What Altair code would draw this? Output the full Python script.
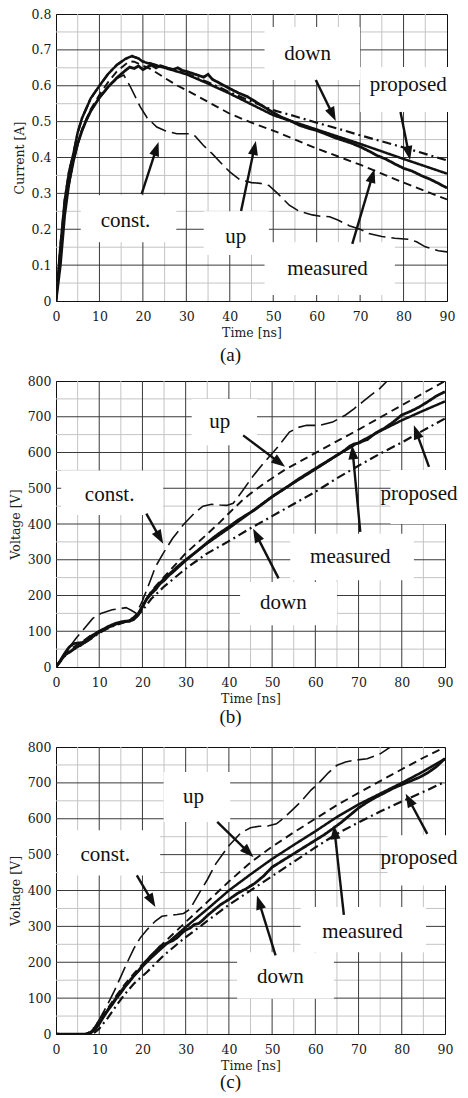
import math
import altair as alt
import pandas as pd

# ---------------- axis ticks / grid values ----------------
X_TICKS = [0, 10, 20, 30, 40, 50, 60, 70, 80, 90]
X_MAJOR = [10, 20, 30, 40, 50, 60, 70, 80]
X_MINOR = [5, 15, 25, 35, 45, 55, 65, 75, 85]
A_YTICKS = [0, 0.1, 0.2, 0.3, 0.4, 0.5, 0.6, 0.7, 0.8]
A_YMAJOR = [0.1, 0.2, 0.3, 0.4, 0.5, 0.6, 0.7]
A_YMINOR = [0.05, 0.15, 0.25, 0.35, 0.45, 0.55, 0.65, 0.75]
V_YTICKS = [0, 100, 200, 300, 400, 500, 600, 700, 800]
V_YMAJOR = [100, 200, 300, 400, 500, 600, 700]
V_YMINOR = [50, 150, 250, 350, 450, 550, 650, 750]

SERIES = ["measured", "proposed", "down", "up", "const."]

# ---------------- panel (a): current ----------------
A_MEAS_T = [0, 1, 2, 3, 4, 5, 6, 7, 8, 10, 12, 14, 16, 17, 18, 19, 20, 21, 22, 23, 24, 25, 26, 27, 28, 29, 30,
            32, 34, 35, 36, 38, 40, 42, 44, 46, 48, 50, 52, 54, 56, 58, 60, 62, 64, 66, 68, 70, 72, 74, 76, 78,
            80, 82, 84, 86, 88, 90]
A_MEAS = [0, 0.1, 0.24, 0.33, 0.39, 0.44, 0.475, 0.505, 0.53, 0.567, 0.597, 0.622, 0.643, 0.652, 0.648, 0.655,
          0.645, 0.652, 0.658, 0.65, 0.656, 0.652, 0.648, 0.645, 0.65, 0.643, 0.64, 0.632, 0.624, 0.632, 0.618,
          0.605, 0.592, 0.58, 0.57, 0.555, 0.54, 0.525, 0.512, 0.502, 0.49, 0.482, 0.475, 0.466, 0.456, 0.448,
          0.44, 0.43, 0.418, 0.405, 0.395, 0.382, 0.37, 0.362, 0.35, 0.34, 0.328, 0.315]
A_PROP_T = [0, 1, 2, 3, 4, 5, 6, 8, 10, 12, 14, 16, 17.5, 19, 20, 25, 30, 35, 40, 45, 50, 60, 70, 80, 90]
A_PROP = [0, 0.15, 0.28, 0.36, 0.41, 0.47, 0.51, 0.565, 0.6, 0.633, 0.658, 0.675, 0.683, 0.676, 0.667, 0.65,
          0.632, 0.606, 0.578, 0.548, 0.518, 0.478, 0.438, 0.396, 0.355]
A_DOWN_T = [0, 1, 2, 3, 4, 5, 6, 8, 10, 12, 14, 16, 17.5, 19, 20, 25, 30, 35, 40, 45, 50, 55, 60, 65, 70, 75,
            80, 85, 90]
A_DOWN = [0, 0.15, 0.28, 0.36, 0.41, 0.47, 0.51, 0.565, 0.6, 0.633, 0.658, 0.675, 0.682, 0.676, 0.668, 0.652,
          0.634, 0.61, 0.582, 0.556, 0.532, 0.515, 0.497, 0.48, 0.462, 0.445, 0.428, 0.41, 0.392]
A_UP_T = [0, 2, 4, 6, 8, 10, 12, 14, 16, 17, 18, 20, 22, 25, 28, 30, 35, 40, 45, 50, 60, 70, 80, 90]
A_UP = [0, 0.26, 0.39, 0.48, 0.535, 0.575, 0.61, 0.64, 0.66, 0.668, 0.667, 0.656, 0.645, 0.622, 0.6, 0.588,
        0.555, 0.522, 0.497, 0.475, 0.425, 0.38, 0.33, 0.283]
A_CONST_T = [0, 2, 4, 6, 8, 10, 12, 14, 15.6, 17, 19.4, 21, 23.2, 25, 27.8, 30.8, 32, 33.9, 36, 38.5, 40, 42.3,
             45, 47, 49, 51, 53.7, 56, 59, 61, 63, 65, 67.5, 70, 72, 75, 78, 81, 83, 85, 88, 90]
A_CONST = [0, 0.26, 0.39, 0.475, 0.528, 0.565, 0.595, 0.62, 0.63, 0.6, 0.541, 0.51, 0.485, 0.475, 0.466, 0.466,
           0.46, 0.434, 0.41, 0.378, 0.36, 0.338, 0.33, 0.328, 0.322, 0.3, 0.267, 0.25, 0.24, 0.236, 0.235,
           0.225, 0.21, 0.2, 0.188, 0.18, 0.175, 0.172, 0.165, 0.151, 0.14, 0.137]
A_BOX_X0 = [48, 70, 5.7, 34, 48]
A_BOX_X1 = [70, 92, 27.7, 49, 78]
A_BOX_Y0 = [0.616, 0.527, 0.164, 0.128, 0.017]
A_BOX_Y1 = [0.764, 0.652, 0.295, 0.25, 0.164]
A_LAB = ["down", "proposed", "const.", "up", "measured"]
A_LAB_X = [57.9, 81.1, 16.0, 41.4, 62.5]
A_LAB_Y = [0.689, 0.602, 0.223, 0.178, 0.089]
A_ARR_X0 = [19.7, 42.6, 68.2, 59.8, 79.3]
A_ARR_Y0 = [0.298, 0.251, 0.159, 0.616, 0.527]
A_ARR_X1 = [23.6, 46.0, 73.3, 64.4, 81.5]
A_ARR_Y1 = [0.443, 0.446, 0.368, 0.502, 0.393]

# ---------------- panel (b): voltage ----------------
B_MEAS_T = [0, 1, 2, 3, 4, 5, 6, 7, 8, 9, 10, 11, 12, 13, 14, 15, 16, 17, 18, 19, 20, 21, 22, 23, 24, 25, 26, 27,
            28, 30, 32, 34, 36, 38, 40, 42, 44, 46, 48, 50, 52, 54, 56, 58, 60, 62, 64, 66, 67, 68, 69, 70, 71, 72,
            74, 76, 78, 80, 82, 84, 86, 87, 88, 89, 90]
B_MEAS = [0, 18, 38, 55, 65, 67, 68, 75, 86, 92, 100, 106, 113, 118, 123, 126, 128, 128, 133, 145, 168, 190, 205,
          216, 232, 242, 255, 265, 276, 298, 318, 338, 358, 376, 392, 410, 425, 440, 458, 476, 492, 508, 525, 540,
          555, 570, 585, 600, 608, 618, 624, 626, 632, 636, 655, 668, 685, 705, 715, 727, 742, 750, 758, 764, 770]
B_PROP_T = [0, 2, 4, 6, 8, 10, 12, 14, 16, 17, 18, 19, 20, 21, 22, 24, 26, 28, 30, 32, 35, 40, 45, 50, 55, 60, 65,
            70, 75, 80, 85, 90]
B_PROP = [0, 32, 50, 63, 80, 97, 110, 120, 127, 130, 136, 150, 170, 192, 208, 235, 258, 280, 300, 318, 346, 388,
          432, 477, 515, 553, 592, 628, 660, 690, 717, 743]
B_DOWN_T = [0, 2, 4, 6, 8, 10, 12, 14, 16, 18, 20, 22, 25, 30, 35, 40, 45, 50, 55, 60, 65, 70, 75, 80, 85, 90]
B_DOWN = [0, 30, 48, 62, 78, 95, 108, 118, 126, 134, 158, 190, 225, 275, 318, 352, 388, 422, 456, 490, 528, 563,
          597, 628, 662, 695]
B_UP_T = [0, 2, 4, 6, 8, 10, 12, 14, 16, 17, 18, 19, 20, 22, 25, 30, 35, 38, 40, 43, 45, 48, 50, 53, 56, 59, 64,
          70, 75, 80, 85, 90]
B_UP = [0, 35, 55, 70, 88, 100, 112, 122, 128, 132, 140, 152, 168, 212, 252, 318, 372, 406, 430, 465, 485, 512,
        528, 552, 572, 592, 625, 664, 698, 732, 766, 800]
B_CONST_T = [0, 2, 4.6, 6, 8.5, 10.4, 13, 16.2, 17.5, 18.6, 20, 21.7, 23, 24.8, 27, 29.4, 32, 34, 36, 38, 39.5,
             41, 43, 45.7, 48, 51, 54, 56, 58, 61, 64, 67, 69, 71, 72.8, 75, 77, 79]
B_CONST = [0, 38, 80, 100, 136, 150, 160, 166, 158, 150, 185, 238, 280, 318, 360, 397, 430, 450, 455, 453, 452,
           458, 490, 536, 570, 611, 657, 670, 676, 676, 685, 705, 723, 742, 760, 780, 805, 830]
B_BOX_X0 = [31.4, 1.2, 77.4, 54.2, 42.6]
B_BOX_X1 = [46.5, 24.8, 92, 82.8, 65]
B_BOX_Y0 = [620, 425, 400, 243, 117]
B_BOX_Y1 = [750, 550, 551, 373, 238]
B_LAB = ["up", "const.", "proposed", "measured", "down"]
B_LAB_X = [37.9, 12.4, 84.0, 68.1, 52.6]
B_LAB_Y = [685, 480, 485, 308, 178]
B_ARR_X0 = [43.3, 20.9, 70.4, 86.3, 51.5]
B_ARR_Y0 = [648, 429, 378, 560, 248]
B_ARR_X1 = [53.0, 24.8, 68.5, 82.8, 45.6]
B_ARR_Y1 = [560, 345, 620, 676, 387]

# ---------------- panel (c): voltage ----------------
C_MEAS_T = [0, 2, 4, 6, 7, 8, 9, 10, 11, 12, 13, 14, 15, 16, 17, 18, 19, 20, 21, 22, 23, 24, 25, 26, 27, 28, 29,
            30, 31, 32, 33, 34, 35, 36, 38, 40, 42, 44, 46, 48, 50, 52, 54, 56, 58, 60, 62, 64, 66, 68, 70, 72, 74,
            76, 78, 80, 82, 84, 86, 88, 90]
C_MEAS = [0, -3, -2, -3, 0, 3, 12, 28, 48, 66, 82, 100, 115, 132, 146, 162, 175, 190, 205, 218, 230, 243, 250, 255,
          260, 268, 280, 290, 295, 305, 308, 318, 330, 340, 360, 375, 392, 405, 420, 440, 465, 480, 495, 510, 525,
          540, 555, 572, 590, 610, 630, 646, 660, 672, 685, 695, 705, 715, 728, 745, 768]
C_PROP_T = [0, 7, 8, 9, 10, 11, 12, 14, 16, 18, 20, 22, 25, 30, 35, 40, 45, 50, 55, 60, 65, 70, 75, 80, 85, 90]
C_PROP = [0, 0, 5, 15, 30, 50, 68, 102, 135, 162, 188, 212, 245, 298, 348, 400, 445, 488, 527, 565, 605, 640, 670,
          700, 732, 767]
C_DOWN_T = [0, 8, 9, 10, 12, 14, 16, 18, 21, 25, 29.5, 35, 40, 45, 50, 55, 60, 65, 70, 75, 80, 85, 90]
C_DOWN = [0, 0, 5, 15, 45, 80, 112, 140, 172, 220, 265, 315, 360, 400, 440, 480, 520, 558, 590, 620, 648, 675, 703]
C_UP_T = [0, 7, 8, 9, 10, 12, 14, 16, 18, 20, 25, 30, 35, 40, 45, 50, 55, 60, 65, 70, 75, 80, 85, 90]
C_UP = [0, 0, 8, 20, 38, 72, 108, 140, 168, 195, 255, 312, 368, 425, 478, 522, 562, 600, 638, 672, 705, 738, 770,
        800]
C_CONST_T = [0, 7, 8, 9, 10, 11.8, 13.5, 15, 16.5, 18, 19.5, 21, 23, 24.5, 26, 28, 29.5, 31, 33, 35, 37, 40, 42.7,
             45, 47, 49, 51, 53, 56.6, 59, 61, 63, 65, 67, 69, 72, 75, 78, 80]
C_CONST = [0, 0, 5, 20, 40, 79, 120, 160, 200, 238, 268, 290, 315, 328, 331, 333, 336, 348, 390, 430, 475, 525,
           560, 575, 579, 580, 586, 605, 647, 680, 702, 728, 749, 758, 763, 767, 781, 805, 820]
C_BOX_X0 = [24.9, 0.5, 76.7, 56.6, 41.9]
C_BOX_X1 = [40.3, 24.1, 92, 85.6, 64.3]
C_BOX_Y0 = [591, 442, 414, 228, 98]
C_BOX_Y1 = [730, 568, 554, 354, 228]
C_LAB = ["up", "const.", "proposed", "measured", "down"]
C_LAB_X = [31.8, 11.4, 84.0, 70.9, 51.9]
C_LAB_Y = [661, 498, 490, 284, 158]
C_ARR_X0 = [37.3, 18.7, 66.6, 85.9, 50.8]
C_ARR_Y0 = [591, 442, 332, 558, 219]
C_ARR_X1 = [45.7, 23.0, 64.3, 80.9, 46.5]
C_ARR_Y1 = [493, 354, 582, 670, 386]

# ---------------- styles ----------------
INK = "#111111"
MAJOR_C = "#3a3a3a"
MINOR_C = "#c4c4c4"
DASHES = [[1, 0], [1, 0], [9, 4, 2, 4], [8, 5], [17, 6]]
WIDTHS = [2.8, 1.6, 2.0, 2.0, 2.0]
ARROW_PATH = "M0,0L-0.36,1L0.36,1Z"
HEAD_BACK = 7.0
AX_FONT = "DejaVu Serif"
LAB_FONT = "Liberation Serif"


def panel(curves, box, lab, arr, ymax, yticks, ymajor, yminor, yfmt, ytitle, w, h, caption, cap_dx, cap_off,
          spacer):
    xs = alt.Scale(domain=[0, 90], nice=False, zero=False)
    ys = alt.Scale(domain=[0, ymax], nice=False, zero=False)
    xax = alt.Axis(values=X_TICKS, title="Time [ns]", labelPadding=9, titlePadding=4)
    yax = alt.Axis(values=yticks, format=yfmt, title=ytitle, labelPadding=5, titlePadding=5)
    sx, sy = w / 90.0, h / ymax

    def X(f):
        return alt.X(f, scale=xs, axis=xax)

    def Y(f):
        return alt.Y(f, scale=ys, axis=yax)

    def gx(vals, col):
        return alt.Chart(pd.DataFrame({"g": vals})).mark_rule(color=col, strokeWidth=1).encode(x=X("g:Q"))

    def gy(vals, col):
        return alt.Chart(pd.DataFrame({"g": vals})).mark_rule(color=col, strokeWidth=1).encode(y=Y("g:Q"))

    bx0, bx1, by0, by1 = box
    boxes = alt.Chart(pd.DataFrame({"x0": bx0, "x1": bx1, "y0": by0, "y1": by1})).mark_rect(
        color="white").encode(x=X("x0:Q"), x2="x1:Q", y=Y("y0:Q"), y2="y1:Q")

    frames = [pd.DataFrame({"t": T, "v": V, "s": s}) for s, T, V in curves]
    df = pd.concat(frames, ignore_index=True)
    lines = alt.Chart(df).mark_line(clip=True, color=INK).encode(
        x=X("t:Q"), y=Y("v:Q"),
        strokeDash=alt.StrokeDash("s:N", scale=alt.Scale(domain=SERIES, range=DASHES), legend=None),
        strokeWidth=alt.StrokeWidth("s:N", scale=alt.Scale(domain=SERIES, range=WIDTHS), legend=None),
    )

    rows = []
    for x0, y0, x1, y1 in zip(*arr):
        dxp = (x1 - x0) * sx
        dyp = -(y1 - y0) * sy
        L = math.hypot(dxp, dyp)
        ux, uy = dxp / L, dyp / L
        ang = math.degrees(math.atan2(ux, -uy)) % 360
        rows.append({"x0": x0, "y0": y0, "xe": x1 - HEAD_BACK * ux / sx, "ye": y1 + HEAD_BACK * uy / sy,
                     "x1": x1, "y1": y1, "ang": ang})
    adf = pd.DataFrame(rows)
    shafts = alt.Chart(adf).mark_rule(color=INK, strokeWidth=2.4).encode(
        x=X("x0:Q"), y=Y("y0:Q"), x2="xe:Q", y2="ye:Q")
    heads = alt.Chart(adf).mark_point(shape=ARROW_PATH, filled=True, size=784, color=INK, opacity=1,
                                      strokeWidth=0).encode(
        x=X("x1:Q"), y=Y("y1:Q"), angle=alt.Angle("ang:Q", scale=None))

    names, lx, ly = lab
    texts = alt.Chart(pd.DataFrame({"name": names, "x": lx, "y": ly})).mark_text(
        font=LAB_FONT, fontSize=21, color=INK, align="center", baseline="middle").encode(
        x=X("x:Q"), y=Y("y:Q"), text="name:N")

    tkw = dict(orient="bottom", anchor="middle", frame="group", dx=cap_dx, offset=cap_off, font=LAB_FONT,
               fontSize=19, fontWeight="normal", color=INK)
    if spacer:
        tkw.update(subtitle=" ", subtitleFontSize=spacer, subtitlePadding=1)
    return alt.layer(
        gx(X_MINOR, MINOR_C), gy(yminor, MINOR_C), gx(X_MAJOR, MAJOR_C), gy(ymajor, MAJOR_C),
        boxes, lines, shafts, heads, texts,
    ).properties(width=w, height=h, title=alt.TitleParams(caption, **tkw))


pa = panel(
    [("measured", A_MEAS_T, A_MEAS), ("proposed", A_PROP_T, A_PROP), ("down", A_DOWN_T, A_DOWN),
     ("up", A_UP_T, A_UP), ("const.", A_CONST_T, A_CONST)],
    (A_BOX_X0, A_BOX_X1, A_BOX_Y0, A_BOX_Y1), (A_LAB, A_LAB_X, A_LAB_Y),
    (A_ARR_X0, A_ARR_Y0, A_ARR_X1, A_ARR_Y1),
    0.8, A_YTICKS, A_YMAJOR, A_YMINOR, ".1~f", "Current [A]", 391, 287, "(a)", -21, 7, 0)

pb = panel(
    [("measured", B_MEAS_T, B_MEAS), ("proposed", B_PROP_T, B_PROP), ("down", B_DOWN_T, B_DOWN),
     ("up", B_UP_T, B_UP), ("const.", B_CONST_T, B_CONST)],
    (B_BOX_X0, B_BOX_X1, B_BOX_Y0, B_BOX_Y1), (B_LAB, B_LAB_X, B_LAB_Y),
    (B_ARR_X0, B_ARR_Y0, B_ARR_X1, B_ARR_Y1),
    800, V_YTICKS, V_YMAJOR, V_YMINOR, "d", "Voltage [V]", 389, 286, "(b)", -20, 3, 3)

pc = panel(
    [("measured", C_MEAS_T, C_MEAS), ("proposed", C_PROP_T, C_PROP), ("down", C_DOWN_T, C_DOWN),
     ("up", C_UP_T, C_UP), ("const.", C_CONST_T, C_CONST)],
    (C_BOX_X0, C_BOX_X1, C_BOX_Y0, C_BOX_Y1), (C_LAB, C_LAB_X, C_LAB_Y),
    (C_ARR_X0, C_ARR_Y0, C_ARR_X1, C_ARR_Y1),
    800, V_YTICKS, V_YMAJOR, V_YMINOR, "d", "Voltage [V]", 389, 287, "(c)", -20, 1, 0)

chart = alt.ConcatChart(
    concat=[pa, pb, pc], columns=1, spacing=8,
    padding={"left": 0, "top": -1, "right": 0, "bottom": 0},
).configure_view(
    stroke=INK, strokeWidth=1,
).configure_axis(
    labelFont=AX_FONT, labelFontSize=12.5, titleFont=AX_FONT, titleFontSize=12.5, titleFontWeight="normal",
    labelColor="#1a1a1a", titleColor="#222222", domainColor=INK, domainWidth=1, ticks=False, grid=False,
    labelFlush=False, labelOverlap=False,
)

chart.save("out.html", embed_options={"renderer": "svg", "actions": False})
